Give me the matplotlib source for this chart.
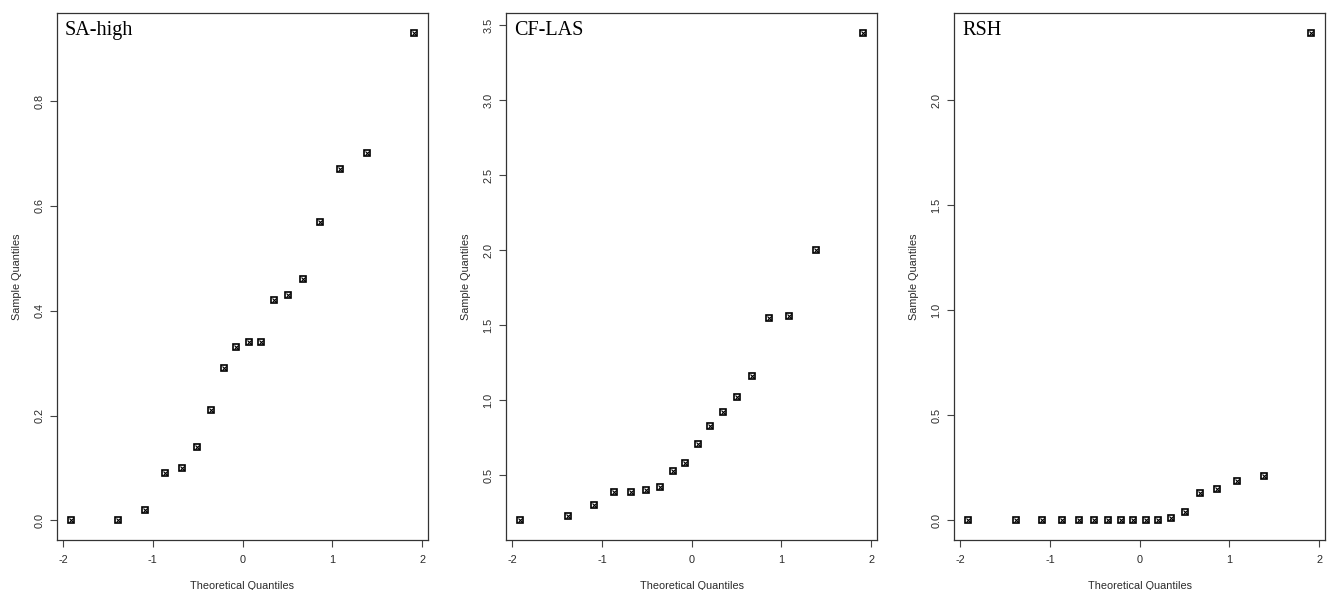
import matplotlib
matplotlib.use("Agg")
import matplotlib.pyplot as plt
import numpy as np

# Theoretical normal quantiles (n = 18)
theoretical = [-1.915, -1.383, -1.085, -0.861, -0.674, -0.508, -0.355, -0.210, -0.070,
               0.070, 0.210, 0.355, 0.508, 0.674, 0.861, 1.085, 1.383, 1.915]

sa_high = [0.00, 0.00, 0.02, 0.09, 0.10, 0.14, 0.21, 0.29, 0.33,
           0.34, 0.34, 0.42, 0.43, 0.46, 0.57, 0.67, 0.70, 0.93]
cf_las = [0.20, 0.23, 0.30, 0.39, 0.39, 0.40, 0.42, 0.53, 0.58,
          0.71, 0.83, 0.92, 1.02, 1.16, 1.55, 1.56, 2.00, 3.45]
rsh = [0.00, 0.00, 0.00, 0.00, 0.00, 0.00, 0.00, 0.00, 0.00,
       0.00, 0.00, 0.01, 0.04, 0.13, 0.15, 0.19, 0.21, 2.32]

panel_titles = ["SA-high", "CF-LAS", "RSH"]
panel_data = [sa_high, cf_las, rsh]
x_ticks = [-2, -1, 0, 1, 2]
y_ticks = [[0.0, 0.2, 0.4, 0.6, 0.8],
           [0.5, 1.0, 1.5, 2.0, 2.5, 3.0, 3.5],
           [0.0, 0.5, 1.0, 1.5, 2.0]]

fig = plt.figure(figsize=(13.28, 5.9), dpi=100)
W, H = 1328, 590
boxes = [(56.7, 428.3), (506.0, 877.3), (954.0, 1325.3)]
top_px, bot_px = 13.3, 540.0

sans = ["Liberation Sans", "DejaVu Sans"]
serif = ["Liberation Serif", "DejaVu Serif"]
txt = "#2a2a2a"

for (l, r), title, vals, yt in zip(boxes, panel_titles, panel_data, y_ticks):
    ax = fig.add_axes([l / W, (H - bot_px) / H, (r - l) / W, (bot_px - top_px) / H])
    ax.plot(theoretical, vals, linestyle="none", marker="s", markersize=4.0,
            markerfacecolor="white", markeredgecolor="black", markeredgewidth=1.2)
    ax.plot(theoretical, vals, linestyle="none", marker="x", markersize=2.4,
            color="black", markeredgewidth=0.8)
    ax.set_xlim(-2.07, 2.07)
    lo, hi = min(vals), max(vals)
    pad = (hi - lo) * 0.04
    ax.set_ylim(lo - pad, hi + pad)
    ax.set_xticks(x_ticks)
    ax.set_xticklabels([str(t) for t in x_ticks], fontfamily=sans, fontsize=7.8, color=txt)
    ax.set_yticks(yt)
    ax.set_yticklabels([f"{t:.1f}" for t in yt], fontfamily=sans, fontsize=7.8,
                       rotation=90, va="center", color=txt)
    ax.tick_params(direction="out", length=5, width=0.8, color="#444444", pad=4)
    ax.tick_params(axis="x", pad=6)
    for s in ax.spines.values():
        s.set_linewidth(0.9)
        s.set_color("#333333")
    ax.set_xlabel("Theoretical Quantiles", fontfamily=sans, fontsize=7.8, labelpad=11, color=txt)
    ax.set_ylabel("Sample Quantiles", fontfamily=sans, fontsize=7.8, labelpad=9, color=txt)
    ax.text(0.022, 0.985, title, transform=ax.transAxes, ha="left", va="top",
            fontfamily=serif, fontsize=14.5, color="black")

fig.savefig("out.png", dpi=100)
